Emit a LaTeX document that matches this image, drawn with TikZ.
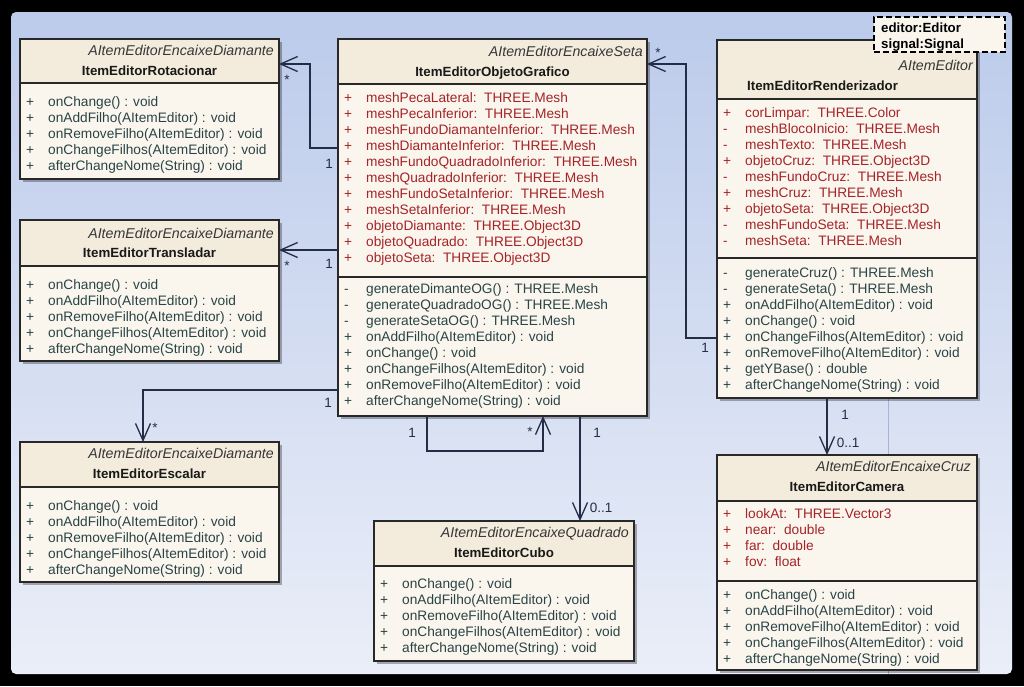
\documentclass[tikz,border=0pt]{standalone}
\usepackage{fontspec}
\setmainfont{Liberation Sans}
\definecolor{bgtop}{RGB}{188,203,235}
\definecolor{bgbot}{RGB}{234,238,248}
\definecolor{body}{RGB}{251,246,237}
\definecolor{head}{RGB}{243,235,220}
\definecolor{boxline}{RGB}{40,40,40}
\definecolor{attrink}{RGB}{165,35,40}
\definecolor{operink}{RGB}{40,68,72}
\definecolor{stereoink}{RGB}{55,55,55}
\definecolor{link}{RGB}{35,45,70}
\definecolor{pageln}{RGB}{165,180,220}
\usetikzlibrary{arrows.meta,shadows}
\newcommand{\vis}[1]{\makebox[22pt][l]{#1}}
\newcommand{\baseops}{\vis{+}onChange() : void\\
  \vis{+}onAddFilho(AItemEditor) : void\\
  \vis{+}onRemoveFilho(AItemEditor) : void\\
  \vis{+}onChangeFilhos(AItemEditor) : void\\
  \vis{+}afterChangeNome(String) : void}
\tikzset{
  classbox/.style={fill=body, inner sep=0pt, outer sep=0pt, anchor=north west,
                   drop shadow={shadow xshift=3pt, shadow yshift=-3pt, opacity=0.3, fill=black}},
  frameline/.style={draw=boxline, line width=1.2pt},
  stereo/.style={anchor=base east, inner sep=0pt, text=stereoink,
                 font=\fontsize{14.2}{16}\selectfont\itshape},
  clsname/.style={anchor=base, inner sep=0pt, text=black!90,
                  font=\fontsize{13.3}{16}\selectfont\bfseries},
  % multi-line nodes: base = baseline of the last line
  attrs/.style={anchor=base west, inner sep=0pt, align=left, text=attrink,
                font=\fontsize{13.7}{16}\selectfont},
  opers/.style={anchor=base west, inner sep=0pt, align=left, text=operink,
                font=\fontsize{13.7}{16}\selectfont},
  mult/.style={anchor=base, inner sep=0pt, text=link, font=\fontsize{13.5}{15}\selectfont},
  assoc/.style={draw=link, line width=1.3pt,
                -{Straight Barb[length=17pt,width=15pt,line width=1.3pt]}},
  notebox/.style={fill=body, draw=black, line width=1.5pt, dash pattern=on 6pt off 3pt,
                  inner sep=0pt, outer sep=0pt, anchor=north west},
  notetext/.style={anchor=base west, inner sep=0pt, align=left,
                   font=\fontsize{13.3}{16}\selectfont\bfseries},
}
\begin{document}
\begin{tikzpicture}[x=1pt,y=-1pt]
  \useasboundingbox (0,0) rectangle (1024,686);
  % --- window ---
  \fill[black] (0,0) rectangle (1024,686);
  \shade[top color=bgtop,bottom color=bgbot,rounded corners=5pt] (11,12) rectangle (1012,674);
  \draw[pageln,line width=0.8pt] (888,398) -- (888,674);

  % --- ItemEditorRotacionar ---
  \node[classbox, minimum width=259pt, minimum height=140pt] (rot) at (20,39) {};
  \fill[head] (rot.north west) rectangle (rot.east |- 0,83);
  \draw[frameline] (rot.north west) rectangle (rot.south east);
  \draw[frameline] (rot.west |- 0,83) -- (rot.east |- 0,83);
  \node[stereo] (rot-st) at (274,55) {AItemEditorEncaixeDiamante};
  \node[clsname] (rot-nm) at (rot.north |- 0,75) {ItemEditorRotacionar};
  \node[opers] (rot-op) at (26,170) {\baseops};

  % --- ItemEditorTransladar ---
  \node[classbox, minimum width=259pt, minimum height=141pt] (tra) at (20,220) {};
  \fill[head] (tra.north west) rectangle (tra.east |- 0,266);
  \draw[frameline] (tra.north west) rectangle (tra.south east);
  \draw[frameline] (tra.west |- 0,266) -- (tra.east |- 0,266);
  \node[stereo] (tra-st) at (274,238) {AItemEditorEncaixeDiamante};
  \node[clsname] (tra-nm) at (tra.north |- 0,257) {ItemEditorTransladar};
  \node[opers] (tra-op) at (26,353) {\baseops};

  % --- ItemEditorEscalar ---
  \node[classbox, minimum width=259pt, minimum height=140pt] (esc) at (20,442) {};
  \fill[head] (esc.north west) rectangle (esc.east |- 0,487);
  \draw[frameline] (esc.north west) rectangle (esc.south east);
  \draw[frameline] (esc.west |- 0,487) -- (esc.east |- 0,487);
  \node[stereo] (esc-st) at (274,458) {AItemEditorEncaixeDiamante};
  \node[clsname] (esc-nm) at (esc.north |- 0,478) {ItemEditorEscalar};
  \node[opers] (esc-op) at (26,574) {\baseops};

  % --- ItemEditorObjetoGrafico ---
  \node[classbox, minimum width=309pt, minimum height=377pt] (gra) at (338,39) {};
  \fill[head] (gra.north west) rectangle (gra.east |- 0,84);
  \draw[frameline] (gra.north west) rectangle (gra.south east);
  \draw[frameline] (gra.west |- 0,84) -- (gra.east |- 0,84);
  \draw[frameline] (gra.west |- 0,277) -- (gra.east |- 0,277);
  \node[stereo] (gra-st) at (643,56) {AItemEditorEncaixeSeta};
  \node[clsname] (gra-nm) at (gra.north |- 0,76) {ItemEditorObjetoGrafico};
  \node[attrs] (gra-at) at (344,262)
    {\vis{+}meshPecaLateral:~~THREE.Mesh\\
     \vis{+}meshPecaInferior:~~THREE.Mesh\\
     \vis{+}meshFundoDiamanteInferior:~~THREE.Mesh\\
     \vis{+}meshDiamanteInferior:~~THREE.Mesh\\
     \vis{+}meshFundoQuadradoInferior:~~THREE.Mesh\\
     \vis{+}meshQuadradoInferior:~~THREE.Mesh\\
     \vis{+}meshFundoSetaInferior:~~THREE.Mesh\\
     \vis{+}meshSetaInferior:~~THREE.Mesh\\
     \vis{+}objetoDiamante:~~THREE.Object3D\\
     \vis{+}objetoQuadrado:~~THREE.Object3D\\
     \vis{+}objetoSeta:~~THREE.Object3D};
  \node[opers] (gra-op) at (344,405)
    {\vis{-}generateDimanteOG() : THREE.Mesh\\
     \vis{-}generateQuadradoOG() : THREE.Mesh\\
     \vis{-}generateSetaOG() : THREE.Mesh\\
     \vis{+}onAddFilho(AItemEditor) : void\\
     \vis{+}onChange() : void\\
     \vis{+}onChangeFilhos(AItemEditor) : void\\
     \vis{+}onRemoveFilho(AItemEditor) : void\\
     \vis{+}afterChangeNome(String) : void};

  % --- ItemEditorCubo ---
  \node[classbox, minimum width=260pt, minimum height=140pt] (cub) at (374,521) {};
  \fill[head] (cub.north west) rectangle (cub.east |- 0,566);
  \draw[frameline] (cub.north west) rectangle (cub.south east);
  \draw[frameline] (cub.west |- 0,566) -- (cub.east |- 0,566);
  \node[stereo] (cub-st) at (629,537) {AItemEditorEncaixeQuadrado};
  \node[clsname] (cub-nm) at (cub.north |- 0,557) {ItemEditorCubo};
  \node[opers] (cub-op) at (380,652) {\baseops};

  % --- ItemEditorRenderizador ---
  \node[classbox, minimum width=260pt, minimum height=358pt] (ren) at (717,40) {};
  \fill[head] (ren.north west) rectangle (ren.east |- 0,99);
  \draw[frameline] (ren.north west) rectangle (ren.south east);
  \draw[frameline] (ren.west |- 0,99) -- (ren.east |- 0,99);
  \draw[frameline] (ren.west |- 0,258) -- (ren.east |- 0,258);
  \node[stereo] (ren-st) at (973,70) {AItemEditor};
  \node[clsname, anchor=base west] (ren-nm) at (747,90) {ItemEditorRenderizador};
  \node[attrs] (ren-at) at (723,245)
    {\vis{+}corLimpar:~~THREE.Color\\
     \vis{-}meshBlocoInicio:~~THREE.Mesh\\
     \vis{-}meshTexto:~~THREE.Mesh\\
     \vis{+}objetoCruz:~~THREE.Object3D\\
     \vis{-}meshFundoCruz:~~THREE.Mesh\\
     \vis{+}meshCruz:~~THREE.Mesh\\
     \vis{+}objetoSeta:~~THREE.Object3D\\
     \vis{-}meshFundoSeta:~~THREE.Mesh\\
     \vis{-}meshSeta:~~THREE.Mesh};
  \node[opers] (ren-op) at (723,389)
    {\vis{-}generateCruz() : THREE.Mesh\\
     \vis{-}generateSeta() : THREE.Mesh\\
     \vis{+}onAddFilho(AItemEditor) : void\\
     \vis{+}onChange() : void\\
     \vis{+}onChangeFilhos(AItemEditor) : void\\
     \vis{+}onRemoveFilho(AItemEditor) : void\\
     \vis{+}getYBase() : double\\
     \vis{+}afterChangeNome(String) : void};

  % --- ItemEditorCamera ---
  \node[classbox, minimum width=260pt, minimum height=215pt] (cam) at (717,455) {};
  \fill[head] (cam.north west) rectangle (cam.east |- 0,501);
  \draw[frameline] (cam.north west) rectangle (cam.south east);
  \draw[frameline] (cam.west |- 0,501) -- (cam.east |- 0,501);
  \draw[frameline] (cam.west |- 0,581) -- (cam.east |- 0,581);
  \node[stereo] (cam-st) at (971,471) {AItemEditorEncaixeCruz};
  \node[clsname] (cam-nm) at (cam.north |- 0,491) {ItemEditorCamera};
  \node[attrs] (cam-at) at (723,566)
    {\vis{+}lookAt:~~THREE.Vector3\\
     \vis{+}near:~~double\\
     \vis{+}far:~~double\\
     \vis{+}fov:~~float};
  \node[opers] (cam-op) at (723,663) {\baseops};

  % --- note ---
  \node[notebox, minimum width=131pt, minimum height=35pt] (note) at (874,17) {};
  \node[notetext] (note-tx) at (881,48) {editor:Editor\\signal:Signal};

  % --- associations ---
  \draw[assoc] (gra.west |- 0,148) -| (310,64) -- (rot.east |- 0,64);
  \draw[assoc] (gra.west |- 0,250) -- (tra.east |- 0,250);
  \draw[assoc] (gra.west |- 0,390) -| (esc.north -| 143,0);
  \draw[assoc] (gra.south -| 427,0) |- (543,451) -- (gra.south -| 543,0);
  \draw[assoc] (gra.south -| 580,0) -- (cub.north -| 580,0);
  \draw[assoc] (ren.west |- 0,338) -| (686,64) -- (gra.east |- 0,64);
  \draw[assoc] (ren.south -| 827,0) -- (cam.north -| 827,0);

  % --- multiplicities ---
  \node[mult] (m-rot-a) at (287,84) {*};
  \node[mult] (m-rot-b) at (329,168) {1};
  \node[mult] (m-tra-a) at (287,270) {*};
  \node[mult] (m-tra-b) at (329,268) {1};
  \node[mult] (m-esc-a) at (155,432) {*};
  \node[mult] (m-esc-b) at (328,407) {1};
  \node[mult] (m-self-a) at (412,437) {1};
  \node[mult] (m-self-b) at (530,436) {*};
  \node[mult] (m-cub-a) at (597,437) {1};
  \node[mult] (m-cub-b) at (601,512) {0..1};
  \node[mult] (m-ren-a) at (658,57) {*};
  \node[mult] (m-ren-b) at (705,352) {1};
  \node[mult] (m-cam-a) at (845,419) {1};
  \node[mult] (m-cam-b) at (848,447) {0..1};
\end{tikzpicture}
\end{document}
